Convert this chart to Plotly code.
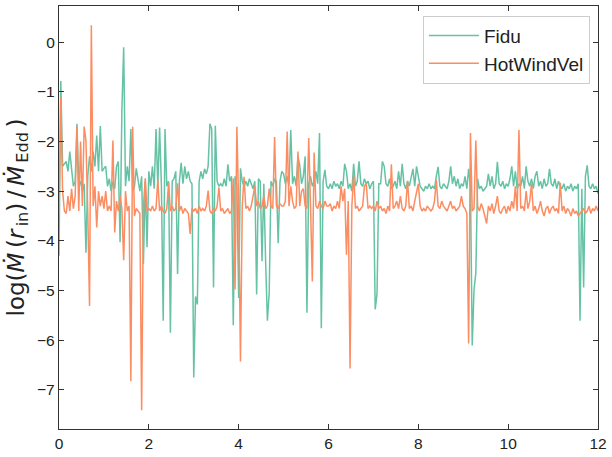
import numpy as np
import plotly.graph_objects as go

# time axis, 0.04 sampling from 0 to 12
time = np.round(np.arange(301) * 0.04, 2)

# log10 of accretion rate at r_in in Eddington units; one row per unit of time
fidu = [
    -4.3, -0.78, -2.5, -2.45, -2.4, -2.6, -2.2, -2.55, -2.9, -2.8, -1.64, -2.9, -2.8, -3.0, -2.85, -4.24, -2.7, -2.3, -2.6, -2.2, -2.5, -1.88, -2.6, -1.69, -2.6,
    -2.54, -2.5, -2.9, -2.75, -3.0, -2.8, -2.95, -2.5, -2.4, -4.03, -1.39, -0.1, -2.9, -2.5, -2.8, -1.75, -3.0, -2.9, -2.54, -2.8, -3.0, -2.7, -4.46, -2.8, -4.13,
    -2.6, -2.9, -2.5, -2.95, -1.75, -2.9, -1.72, -2.9, -5.61, -1.75, -2.9, -2.8, -5.85, -2.8, -2.75, -2.6, -4.67, -2.8, -2.43, -2.85, -2.5, -2.75, -2.6, -2.8, -2.85,
    -6.75, -5.12, -5.28, -2.8, -2.6, -2.75, -2.55, -2.65, -2.5, -1.64, -1.75, -4.94, -1.68, -2.8, -2.9, -2.85, -2.9, -2.75, -2.9, -2.46, -2.8, -2.7, -5.70, -2.7, -2.9,
    -5.15, -2.54, -2.8, -2.9, -2.8, -2.9, -2.75, -2.85, -2.95, -2.8, -5.08, -2.75, -2.8, -4.41, -2.85, -4.42, -5.61, -5.04, -2.8, -2.9, -2.75, -2.8, -4.05, -2.8, -2.6,
    -2.65, -2.85, -2.7, -2.9, -1.77, -2.85, -2.7, -2.9, -2.3, -2.48, -2.85, -2.7, -2.30, -5.45, -2.85, -2.7, -2.9, -2.8, -2.6, -2.85, -1.83, -5.76, -2.8, -2.57, -2.9,
    -2.95, -2.85, -2.95, -2.8, -2.9, -2.85, -2.95, -2.8, -2.9, -2.45, -2.6, -2.95, -2.85, -3.0, -2.45, -2.9, -2.8, -2.4, -2.85, -2.9, -2.75, -2.85, -2.8, -2.95, -2.85,
    -2.8, -5.38, -5.07, -2.85, -2.85, -2.4, -2.5, -2.85, -2.9, -2.75, -2.95, -2.9, -2.8, -2.95, -2.6, -2.9, -2.45, -2.85, -2.95, -2.8, -2.9, -2.75, -2.55, -2.9, -2.5,
    -2.7, -2.9, -2.95, -3.0, -2.9, -2.95, -2.85, -2.95, -2.9, -2.95, -2.7, -2.51, -2.9, -2.95, -2.85, -2.9, -2.95, -2.8, -2.5, -2.85, -2.7, -2.9, -2.75, -2.95, -2.85,
    -2.9, -2.7, -2.95, -2.55, -2.9, -6.11, -4.98, -4.65, -2.75, -2.95, -2.9, -3.0, -2.95, -2.9, -2.65, -2.9, -2.7, -2.95, -2.85, -2.41, -2.85, -2.9, -2.8, -2.95, -2.85,
    -2.9, -2.75, -2.5, -2.9, -2.6, -2.95, -2.85, -2.9, -2.7, -2.95, -2.5, -2.8, -2.9, -2.75, -2.95, -2.7, -2.6, -2.9, -2.8, -2.95, -2.75, -2.9, -2.85, -2.55, -2.85,
    -2.9, -2.75, -2.95, -2.8, -2.9, -2.95, -2.85, -3.0, -2.9, -2.95, -2.85, -3.0, -2.9, -2.95, -2.85, -5.61, -2.95, -4.94, -2.7, -2.48, -2.9, -2.95, -2.85, -2.95, -2.9,
    -3.05,
]

hot_wind_vel = [
    -3.5, -1.12, -3.0, -3.4, -3.45, -3.1, -3.4, -2.95, -3.35, -3.1, -1.70, -3.4, -2.0, -3.3, -1.70, -1.98, -3.4, -5.31, 0.34, -3.3, -2.9, -3.73, -3.0, -3.3, -3.1,
    -3.35, -3.0, -3.4, -3.3, -3.4, -1.98, -3.83, -3.2, -3.4, -3.1, -3.35, -4.39, -3.0, -3.4, -3.3, -6.83, -1.70, -3.5, -3.35, -3.4, -3.45, -7.41, -3.3, -2.74, -3.4,
    -3.35, -3.4, -3.3, -3.4, -3.35, -2.77, -3.4, -3.3, -3.4, -3.45, -3.35, -2.84, -3.4, -3.3, -3.4, -3.35, -2.84, -3.4, -3.3, -3.45, -3.35, -3.4, -3.45, -3.86, -3.35,
    -3.4, -3.35, -3.45, -3.3, -3.4, -3.35, -3.4, -3.3, -2.99, -3.4, -3.45, -3.35, -3.4, -3.3, -2.92, -3.4, -3.35, -3.45, -3.4, -3.35, -3.45, -3.4, -2.74, -4.98, -1.70,
    -3.3, -6.43, -3.3, -2.71, -3.35, -3.3, -3.4, -3.3, -3.1, -2.9, -3.3, -3.2, -3.35, -3.3, -3.1, -3.35, -3.3, -2.95, -3.3, -3.35, -1.91, -3.3, -3.35, -3.25, -3.3,
    -3.3, -3.2, -1.80, -3.3, -2.9, -3.2, -3.35, -3.3, -2.20, -3.3, -3.0, -2.95, -3.3, -3.35, -1.93, -3.3, -4.82, -2.22, -3.3, -3.35, -3.2, -3.3, -3.35, -3.2, -3.3,
    -3.3, -3.25, -3.4, -3.3, -3.35, -3.2, -3.35, -2.9, -3.2, -2.95, -4.28, -3.2, -6.57, -3.3, -2.67, -3.35, -3.3, -3.4, -3.35, -3.3, -2.9, -2.84, -3.35, -3.3, -3.35,
    -3.3, -3.4, -3.2, -3.35, -3.3, -3.4, -3.35, -3.45, -3.3, -3.4, -2.46, -3.35, -3.3, -3.2, -3.35, -3.1, -3.35, -3.4, -3.3, -2.79, -3.35, -3.3, -3.4, -3.2, -3.0,
    -2.85, -3.3, -3.4, -3.35, -3.4, -3.3, -3.35, -3.4, -3.35, -3.2, -2.77, -3.3, -3.35, -3.2, -3.3, -3.35, -3.4, -3.3, -3.2, -3.35, -3.3, -3.4, -3.35, -3.3, -3.1,
    -3.3, -3.35, -3.45, -6.07, -1.83, -3.4, -3.35, -1.98, -3.3, -3.4, -3.25, -3.35, -3.5, -3.65, -3.3, -3.4, -3.25, -3.45, -3.3, -3.1, -3.4, -3.45, -3.35, -3.3, -3.45,
    -3.3, -3.4, -3.2, -3.35, -2.9, -3.4, -1.77, -3.35, -3.3, -3.4, -3.0, -3.35, -3.2, -2.85, -3.4, -3.3, -3.45, -3.35, -3.2, -3.4, -3.5, -3.35, -3.3, -3.45, -3.35,
    -3.3, -3.4, -3.35, -3.45, -2.83, -3.4, -3.3, -3.45, -3.35, -3.4, -3.5, -3.35, -3.45, -3.4, -3.5, -3.45, -3.4, -3.35, -3.45, -3.4, -3.3, -3.45, -3.35, -3.4, -3.3,
    -3.4,
]

series_names = ["Fidu", "HotWindVel"]
series_colors = ["#66c2a5", "#fc8d62"]
x_ticks = [0, 2, 4, 6, 8, 10, 12]
y_ticks = [0, -1, -2, -3, -4, -5, -6, -7]

SANS = "Liberation Sans, Arial, sans-serif"

fig = go.Figure()
for name, values, color in zip(series_names, [fidu, hot_wind_vel], series_colors):
    fig.add_trace(go.Scatter(
        x=time, y=values, mode="lines", name=name,
        line=dict(color=color, width=1.5),
    ))

axis_style = dict(
    showline=True, linecolor="#333333", linewidth=1.3, mirror="ticks",
    ticks="inside", ticklen=5, tickwidth=1, tickcolor="#333333",
    showgrid=False, zeroline=False,
    tickfont=dict(family=SANS, size=15.5, color="#222222"),
)

fig.update_xaxes(range=[0, 12], tickvals=x_ticks, **axis_style)
fig.update_yaxes(
    range=[-7.79, 0.73], tickvals=y_ticks,
    ticktext=[str(v).replace("-", "\u2212") for v in y_ticks],
    title=dict(
        text=("log(<i>\u1e40</i>\u2009(<i>r</i><sub>\u2009in</sub>)"
              "\u2009/\u2009<i>\u1e40</i><sub>\u2009Edd</sub>\u2009)"),
        font=dict(family="DejaVu Sans, sans-serif", size=23, color="#222222"),
        standoff=6,
    ),
    **axis_style,
)

fig.update_layout(
    width=612, height=457,
    margin=dict(l=59, r=13, t=5, b=22),
    plot_bgcolor="white", paper_bgcolor="white",
    showlegend=True,
    legend=dict(
        x=0.985, y=0.977, xanchor="right", yanchor="top",
        bgcolor="white", bordercolor="#cccccc", borderwidth=1,
        itemwidth=50,
        font=dict(family=SANS, size=19, color="#222222"),
    ),
)

fig.write_html("out.html")
